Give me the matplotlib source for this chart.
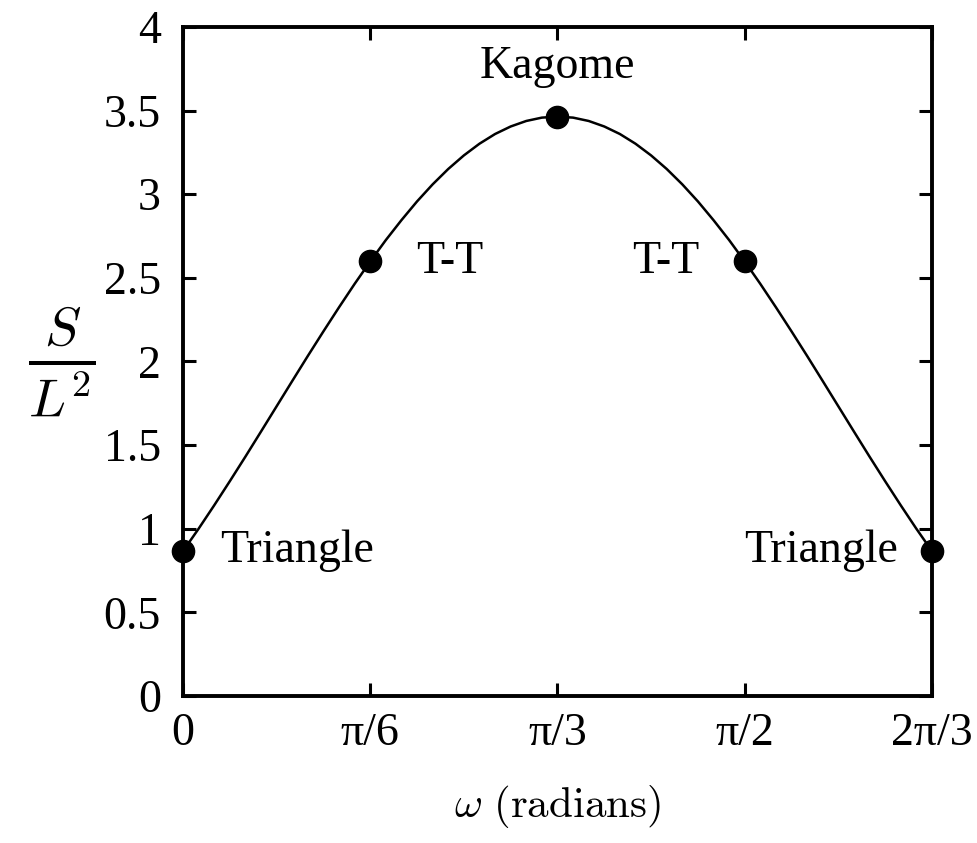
import numpy as np
import matplotlib.pyplot as plt

plt.rcParams['font.family'] = ['Liberation Serif', 'DejaVu Serif']
plt.rcParams['mathtext.fontset'] = 'cm'

# curve, omega in degrees (2.5 deg steps)
omega_deg = [0, 2.5, 5, 7.5, 10, 12.5, 15, 17.5, 20, 22.5, 25, 27.5,
             30, 32.5, 35, 37.5, 40, 42.5, 45, 47.5, 50, 52.5, 55, 57.5,
             60, 62.5, 65, 67.5, 70, 72.5, 75, 77.5, 80, 82.5, 85, 87.5,
             90, 92.5, 95, 97.5, 100, 102.5, 105, 107.5, 110, 112.5, 115, 117.5, 120]
area = [0.866, 1.000, 1.140, 1.284, 1.431, 1.581, 1.732, 1.883, 2.033, 2.180, 2.324, 2.464,
        2.598, 2.726, 2.845, 2.957, 3.059, 3.151, 3.232, 3.302, 3.360, 3.405, 3.438, 3.458,
        3.464, 3.458, 3.438, 3.405, 3.360, 3.302, 3.232, 3.151, 3.059, 2.957, 2.845, 2.726,
        2.598, 2.464, 2.324, 2.180, 2.033, 1.883, 1.732, 1.581, 1.431, 1.284, 1.140, 1.000, 0.866]

# special structures
pt_deg = [0, 30, 60, 90, 120]
pt_area = [0.866, 2.598, 3.464, 2.598, 0.866]
pt_names = ['Triangle', 'T-T', 'Kagome', 'T-T', 'Triangle']

xtick_labels = ['0', 'π/6', 'π/3', 'π/2', '2π/3']
ytick_vals = [0, 0.5, 1, 1.5, 2, 2.5, 3, 3.5, 4]
ytick_labels = ['0', '0.5', '1', '1.5', '2', '2.5', '3', '3.5', '4']

fig = plt.figure(figsize=(9.77, 8.43), dpi=100)
ax = fig.add_axes([0.1873, 0.1744, 0.9539 - 0.1873, 0.968 - 0.1744])

x = np.deg2rad(omega_deg)
ax.plot(x, area, 'k-', linewidth=1.8)
xp = np.deg2rad(pt_deg)
ax.plot(xp, pt_area, 'ko', markersize=16, clip_on=False, zorder=5)

# label offsets in pixels
offsets = [(37, 0, 'left'), (46, 0, 'left'), (0, 50, 'center'), (-45, 0, 'right'), (-34, 0, 'right')]
for xi, yi, name, (dx, dy, ha) in zip(xp, pt_area, pt_names, offsets):
    ax.annotate(name, (xi, yi), xytext=(dx, dy), textcoords='offset pixels',
                ha=ha, va='center', fontsize=33)

ax.set_xlim(0, np.deg2rad(120))
ax.set_ylim(0, 4)
ax.set_xticks(np.deg2rad(pt_deg))
ax.set_xticklabels(xtick_labels)
ax.set_yticks(ytick_vals)
ax.set_yticklabels(ytick_labels)
ax.tick_params(direction='in', length=9.5, width=2.2, labelsize=33,
               top=True, right=True)
ax.tick_params(axis='x', pad=12)
ax.tick_params(axis='y', pad=16)
for s in ax.spines.values():
    s.set_linewidth(2.8)

ax.set_xlabel(r'$\omega\ \mathrm{(radians)}$', fontsize=31, labelpad=20)
ax.set_ylabel(r'$\frac{S}{L^2}$', fontsize=56, rotation=0, labelpad=30, va='center')

fig.savefig('out.png', dpi=100)
